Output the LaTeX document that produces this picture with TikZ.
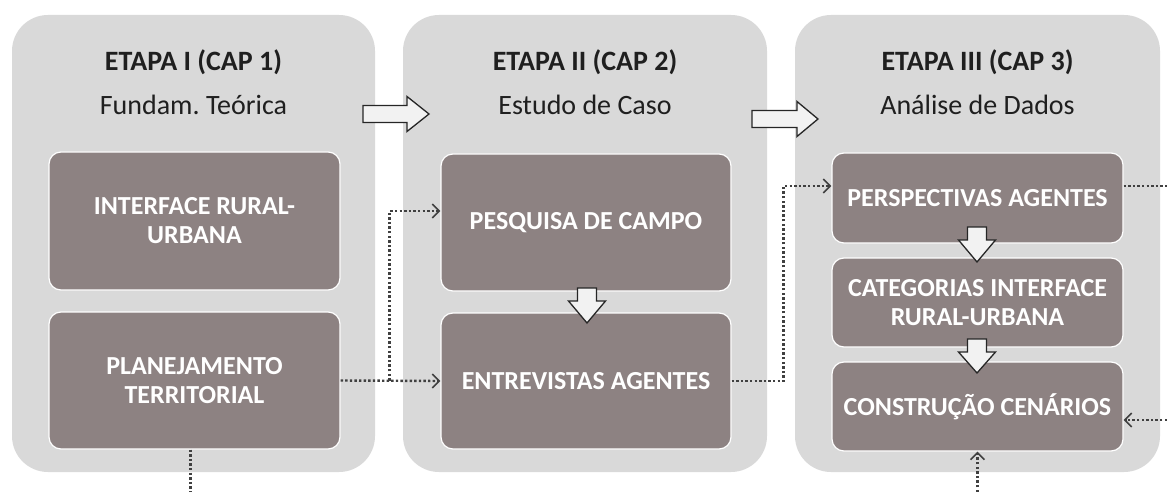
\documentclass[tikz,border=0pt]{standalone}
\usepackage{fontspec}
\setmainfont{Carlito}
\frenchspacing
\usetikzlibrary{arrows.meta,calc}
\definecolor{panelgray}{HTML}{D9D9D9}
\definecolor{boxbrown}{RGB}{141,130,130}
\definecolor{linegray}{HTML}{404040}
\definecolor{arrfill}{HTML}{F2F2F2}
\definecolor{arroutline}{HTML}{262626}
\newcommand\smallarr[4]{\draw[arrshape] (#1-9.5,#2) -- (#1+9.5,#2) -- (#1+9.5,#3) -- (#1+18.5,#3) -- (#1,#4) -- (#1-18.5,#3) -- (#1-9.5,#3) -- cycle;}
\newcommand\bigarr[4]{\draw[arrshape] (#1,#4-8.5) -- (#2,#4-8.5) -- (#2,#4-17.5) -- (#3,#4) -- (#2,#4+17.5) -- (#2,#4+8.5) -- (#1,#4+8.5) -- cycle;}
\begin{document}
\begin{tikzpicture}[x=1pt,y=-1pt,
  panel/.style={fill=panelgray,draw=none,rounded corners=36pt,inner sep=0pt,minimum height=457pt},
  box/.style={fill=boxbrown,draw=white,line width=1.2pt,rounded corners=12pt,text=white,
    font=\bfseries\fontsize{26}{29}\selectfont,align=center,inner sep=0pt,minimum width=291pt},
  title/.style={anchor=base,text=black!88,font=\bfseries\fontsize{28}{32}\selectfont},
  subtitle/.style={anchor=base,text=black!88,font=\fontsize{28}{32}\selectfont},
  arrshape/.style={fill=arrfill,draw=arroutline,line width=1.3pt,line join=miter},
  dotline/.style={draw=linegray,line width=2.4pt,dash pattern=on 2.4pt off 2.2pt},
  tip/.style={-{Straight Barb[length=7pt,width=14pt,line width=1.6pt]}}
]
\useasboundingbox (0,0) rectangle (1167,492);

% panels
\node[panel,minimum width=363pt] (p1) at (193.5,243.5) {};
\node[panel,minimum width=364pt] (p2) at (585,243.5) {};
\node[panel,minimum width=365pt] (p3) at (977.5,243.5) {};

% titles
\node[title] (t1) at (193.5,71) {ETAPA I (CAP 1)};
\node[subtitle] (s1) at (193.5,115) {Fundam. Teórica};
\node[title] (t2) at (585,71) {ETAPA II (CAP 2)};
\node[subtitle] (s2) at (585,115) {Estudo de Caso};
\node[title] (t3) at (977.5,71) {ETAPA III (CAP 3)};
\node[subtitle] (s3) at (977.5,115) {Análise de Dados};

% boxes
\node[box,minimum height=138pt] (a1) at (194.5,221) {INTERFACE RURAL-\\URBANA};
\node[box,minimum height=137pt] (a2) at (194.5,380.5) {PLANEJAMENTO\\TERRITORIAL};
\node[box,minimum width=290pt,minimum height=137pt] (b1) at (586,222.5) {PESQUISA DE CAMPO};
\node[box,minimum width=290pt,minimum height=136pt] (b2) at (586,381) {ENTREVISTAS AGENTES};
\node[box,minimum height=90pt] (c1) at (977.5,198) {PERSPECTIVAS AGENTES};
\node[box,minimum height=89pt] (c2) at (977.5,302.5) {CATEGORIAS INTERFACE\\RURAL-URBANA};
\node[box,minimum height=89pt] (c3) at (977.5,406.5) {CONSTRUÇÃO CENÁRIOS};

% big arrows between stages
\bigarr{363}{407}{429}{114}
\bigarr{752}{797}{818}{119}

% small down arrows
\smallarr{587}{288}{301}{323}
\smallarr{977}{227}{240}{262}
\smallarr{977}{339}{352}{373}

% free ends
\coordinate (e1) at (1167,186);
\coordinate (e2) at (1167,420);
\coordinate (e3) at (977.5,492);
\coordinate (e4) at (190.5,492);

% dotted connectors
\draw[dotline,tip] (a2.east) -- (b2.west);
\draw[dotline,tip] ($(a2.east)+(49,0)$) |- ($(b1.west)+(0,-11.5)$);
\draw[dotline,tip] (b2.east) -- ++(52,0) |- ($(c1.west)+(0,-12)$);
\draw[dotline] ($(c1.east)+(0,-12)$) -- (e1);
\draw[dotline,tip] (e2) -- ($(c3.east)+(0,13.5)$);
\draw[dotline,tip] (e3) -- (c3.south);
\draw[dotline] ($(a2.south)+(-4,0)$) -- (e4);
\end{tikzpicture}
\end{document}
